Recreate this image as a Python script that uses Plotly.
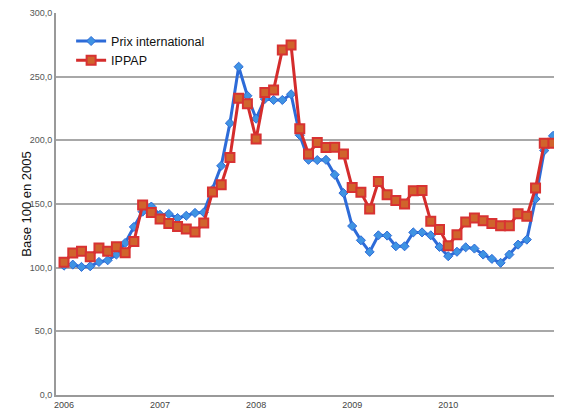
import plotly.graph_objects as go

# monthly points, Jan 2006 -> Sep 2010 (index 0..56)
months = list(range(57))

prix_international = [
    101.6, 102.4, 100.6, 101.1, 104.5, 105.8, 110.3, 119.4, 132.0, 144.0,
    148.0, 141.5, 142.2, 139.0, 140.8, 143.0, 143.4, 161.2, 180.0, 213.5,
    257.8, 235.0, 217.0, 232.5, 231.7, 231.7, 236.2, 204.0, 184.7, 184.5,
    184.7, 173.0, 158.6, 132.7, 121.5, 112.4, 125.4, 125.2, 116.8, 116.8,
    127.7, 127.7, 125.4, 116.3, 109.0, 112.5, 116.0, 115.0, 110.3, 106.9,
    103.8, 110.3, 118.1, 122.0, 153.9, 192.0, 203.5,
]

ippap = [
    104.2, 111.6, 112.9, 108.5, 115.5, 112.9, 116.5, 111.8, 120.5, 149.2,
    143.4, 138.2, 134.6, 132.4, 130.4, 128.0, 135.1, 159.4, 165.1, 186.5,
    233.0, 228.8, 201.0, 237.5, 239.6, 271.0, 274.8, 209.0, 189.2, 198.3,
    194.4, 194.6, 189.2, 163.0, 159.2, 146.0, 167.7, 157.3, 152.8, 150.0,
    160.4, 160.7, 136.4, 129.9, 117.3, 125.9, 135.9, 139.0, 136.9, 134.6,
    133.0, 133.0, 142.4, 140.3, 162.5, 197.8, 197.8,
]

year_ticks = [0, 11, 22, 33, 44]
year_labels = ["2006", "2007", "2008", "2009", "2010"]

fig = go.Figure()

fig.add_trace(go.Scatter(
    x=months, y=prix_international, name="Prix international",
    mode="lines+markers", cliponaxis=False,
    line=dict(color="#2d6bd8", width=3),
    marker=dict(symbol="diamond", size=7, color="#3f93e3",
                line=dict(color="#2d6bd8", width=1)),
))

fig.add_trace(go.Scatter(
    x=months, y=ippap, name="IPPAP",
    mode="lines+markers", cliponaxis=False,
    line=dict(color="#d42c2c", width=3),
    marker=dict(symbol="square", size=9, color="#d0642c",
                line=dict(color="#d83232", width=2)),
))

# the page body has an 8px margin, so the figure is sized 8px smaller
fig.update_layout(
    width=554, height=411,
    margin=dict(l=48, r=2, t=5, b=24),
    paper_bgcolor="white", plot_bgcolor="white",
    separators=", ",
    showlegend=True,
    legend=dict(x=0.03, y=0.965, xanchor="left", yanchor="top",
                bgcolor="rgba(0,0,0,0)", tracegroupgap=0,
                font=dict(family="Liberation Sans", size=12.5, color="#111")),
    font=dict(family="Liberation Sans"),
)

# y-axis title drawn as an annotation so it can sit close to the tick labels
fig.add_annotation(
    text="Base 100 en 2005", textangle=-90,
    xref="paper", yref="paper", x=-0.06, y=0.5,
    xanchor="center", yanchor="middle", showarrow=False,
    font=dict(family="Liberation Sans", size=13, color="#111"),
)

fig.update_xaxes(
    range=[-0.92, 56.8], automargin=False,
    tickvals=year_ticks, ticktext=year_labels,
    tickfont=dict(size=9, color="#444"),
    showgrid=False, zeroline=False,
    showline=True, linecolor="#999", linewidth=2,
    ticks="",
)

fig.update_yaxes(
    range=[0, 300], dtick=50, tickformat=".1f", automargin=False,
    tickfont=dict(size=9, color="#555"),
    showgrid=True, gridcolor="#a8a8a8", gridwidth=1.5,
    zeroline=False,
    showline=True, linecolor="#999", linewidth=2,
    ticks="",
)

fig.write_html("out.html")
